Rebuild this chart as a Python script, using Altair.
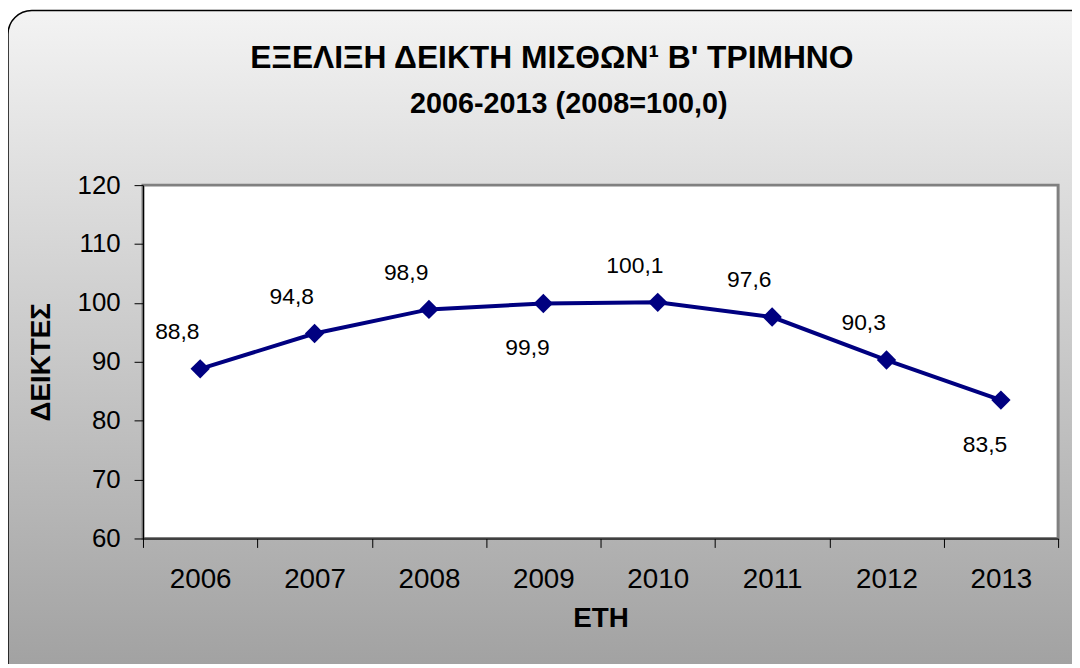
import altair as alt
import pandas as pd

# ---- data ----
years = ["2006", "2007", "2008", "2009", "2010", "2011", "2012", "2013"]
index_values = [88.8, 94.8, 98.9, 99.9, 100.1, 97.6, 90.3, 83.5]
label_side = ["above", "above", "above", "below", "above", "above", "above", "below"]
y_ticks = [60, 70, 80, 90, 100, 110, 120]

title_line1 = "ΕΞΕΛΙΞΗ ΔΕΙΚΤΗ ΜΙΣΘΩΝ¹ Β' ΤΡΙΜΗΝΟ"
title_line2 = "2006-2013 (2008=100,0)"
x_title = "ΕΤΗ"
y_title = "ΔΕΙΚΤΕΣ"

df = pd.DataFrame({"year": years, "value": index_values, "side": label_side})

W, H = 922, 356
PAD = {"left": 136, "top": 176, "right": 14, "bottom": 124}
FONT = "Liberation Sans"
NAVY = "#000080"

x_enc = alt.X(
    "year:O",
    scale=alt.Scale(type="band", paddingInner=0, paddingOuter=0),
    bandPosition=0.5,
    axis=alt.Axis(
        title=x_title, labelAngle=0, tickBand="extent", labelFontSize=28,
        labelFont=FONT, labelColor="black", labelPadding=18,
        titleFont=FONT, titleFontSize=28, titleFontWeight="bold",
        titleColor="black", titlePadding=12, zindex=2,
        domainColor="black", tickColor="black", tickSize=9, domainWidth=1.2,
    ),
)
y_enc = alt.Y(
    "value:Q",
    scale=alt.Scale(domain=[60, 120], nice=False, zero=False),
    axis=alt.Axis(
        title=y_title, values=y_ticks, grid=False, labelFontSize=26,
        labelFont=FONT, labelColor="black", labelPadding=14,
        titleFont=FONT, titleFontSize=28, titleFontWeight="bold",
        titleColor="black", titlePadding=22, zindex=2,
        domainColor="black", tickColor="black", tickSize=9, domainWidth=1.2,
    ),
)

bg_data = pd.DataFrame({"k": [0]})
background = alt.Chart(bg_data).mark_rect(
    cornerRadius=24,
    stroke="black",
    strokeWidth=1.5,
    fill={
        "gradient": "linear",
        "x1": 0, "y1": 0, "x2": 0, "y2": 1,
        "stops": [
            {"offset": 0, "color": "#f3f3f3"},
            {"offset": 1, "color": "#9e9e9e"},
        ],
    },
).encode(
    x=alt.value(-PAD["left"]), x2=alt.value(W + 40),
    y=alt.value(-PAD["top"]), y2=alt.value(H + 160),
)

plot_bg = alt.Chart(bg_data).mark_rect(
    fill="white", stroke="#808080", strokeWidth=3
).encode(
    x=alt.value(0), x2=alt.value(W), y=alt.value(0), y2=alt.value(H)
)

title_style = dict(font=FONT, fontWeight="bold", color="black",
                   align="center", baseline="alphabetic")
title_a = alt.Chart(bg_data).mark_text(
    text=title_line1, fontSize=32, **title_style
).encode(x=alt.value(412), y=alt.value(-118))
title_b = alt.Chart(bg_data).mark_text(
    text=title_line2, fontSize=29, **title_style
).encode(x=alt.value(429), y=alt.value(-73))

base = alt.Chart(df)

line = base.mark_line(color=NAVY, strokeWidth=4).encode(x=x_enc, y=y_enc)
points = base.mark_point(
    shape="diamond", filled=True, color=NAVY, size=380, opacity=1
).encode(x=x_enc, y=y_enc)

label_common = dict(fontSize=23, font=FONT, color="black")
labels_above = base.transform_filter(alt.datum.side == "above").transform_calculate(
    lbl="replace(format(datum.value, '.1f'), '.', ',')"
).mark_text(dx=-23, dy=-37, **label_common).encode(x=x_enc, y=y_enc, text="lbl:N")
labels_below = base.transform_filter(alt.datum.side == "below").transform_calculate(
    lbl="replace(format(datum.value, '.1f'), '.', ',')"
).mark_text(dx=-16, dy=45, **label_common).encode(x=x_enc, y=y_enc, text="lbl:N")

chart = alt.layer(
    background, plot_bg, title_a, title_b, line, points, labels_above, labels_below
).properties(
    width=W,
    height=H,
    padding=PAD,
    autosize=alt.AutoSizeParams(type="none"),
).configure_view(stroke=None).configure(background="white")

chart.save("out.html", embed_options={"renderer": "svg", "actions": False})
